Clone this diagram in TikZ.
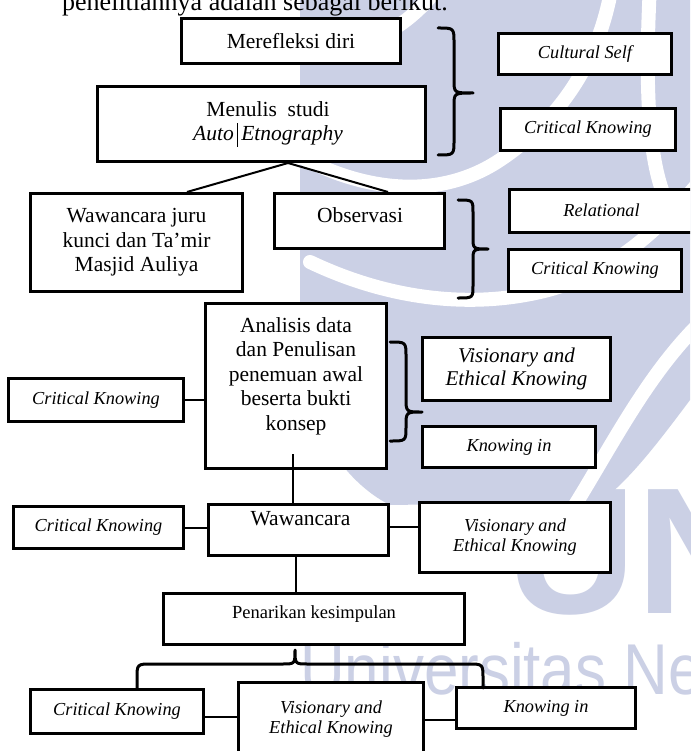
\documentclass[tikz,border=0pt]{standalone}
\usepackage{fontspec}
\setmainfont{Liberation Serif}
\newfontfamily\wmfont{Liberation Sans}
\usetikzlibrary{calc}
\definecolor{wm}{RGB}{203,208,229}
\begin{document}
\begin{tikzpicture}[x=1pt,y=-1pt,
  box/.style={draw=black, line width=3pt, fill=white, inner sep=0pt, align=center},
  txt/.style={inner sep=0pt, align=center},
  big/.style={font=\fontsize{21.5}{24.5}\selectfont},
  sm/.style={font=\fontsize{18.3}{20}\selectfont\itshape},
  smr/.style={font=\fontsize{18.5}{21}\selectfont},
  conn/.style={line width=2pt},
  brc/.style={line width=3pt, line cap=round, line join=round},
  stripe/.style={draw=white, line width=14pt, line cap=round}
]
\useasboundingbox (0,0) rectangle (690,751);
\clip (0,0) rectangle (690,751);
\fill[white] (0,0) rectangle (690,751);

% watermark (faint logo in the background)
\fill[wm] (300,0) -- (690,0) -- (690,400) .. controls (660,440) and (630,480) .. (600,502) -- (390,505) .. controls (340,480) and (310,420) .. (300,380) -- cycle;
\draw[stripe] (280,145) .. controls (360,195) and (440,200) .. (500,160) .. controls (560,120) and (600,60) .. (612,-15);
\draw[stripe] (310,262) .. controls (390,300) and (470,308) .. (540,292) .. controls (610,276) and (660,230) .. (705,175);
\draw[stripe] (575,505) .. controls (615,440) and (650,370) .. (705,318);
\draw[stripe] (650,-15) .. controls (645,80) and (648,150) .. (662,190);
\draw[stripe] (290,45) .. controls (340,60) and (400,40) .. (440,-15);
\node[anchor=base west, text=wm, font=\wmfont\fontsize{72}{72}\selectfont, xscale=0.86, inner sep=0pt] (wmt) at (300,694) {Universitas Negeri};
\node[anchor=base west, text=wm, font=\wmfont\bfseries\fontsize{180}{180}\selectfont, inner sep=0pt] (wmu) at (506,613) {UN};

% intro line (cut off at the top)
\node[anchor=base west, inner sep=0pt, font=\fontsize{26}{30}\selectfont] (intro) at (62,10.5) {penelitiannya adalah sebagai berikut.};

% boxes
\node[box, big, minimum width=219pt, minimum height=45pt] (mer) at (291,41) {Merefleksi diri};
\node[box, minimum width=328pt, minimum height=75pt] (men) at (261.5,124) {};
\node[txt, big] (ment) at (268,124) {Menulis\ \ studi\\\textit{Auto}\hspace{3pt}\rule[-6pt]{1.6pt}{24pt}\hspace{3pt}\textit{Etnography}};
\node[box, sm, minimum width=173pt, minimum height=41pt] (cs) at (585,54) {Cultural Self};
\node[box, sm, minimum width=175pt, minimum height=42pt] (ck1) at (588,129.5) {Critical Knowing};

\node[box, big, minimum width=212pt, minimum height=98pt] (wjk) at (136.5,242.5) {Wawancara juru\\kunci dan Ta’mir\\Masjid Auliya};
\node[box, minimum width=170pt, minimum height=55pt] (obs) at (359.5,221) {};
\node[txt, big] (obst) at (360,215) {Observasi};
\node[box, sm, minimum width=192.5pt, minimum height=43pt] (rel) at (605.75,211) {};
\node[txt, sm] (relt) at (601.5,210) {Relational};
\node[box, sm, minimum width=173pt, minimum height=42pt] (ck2) at (595,270.5) {Critical Knowing};

\node[box, minimum width=181pt, minimum height=165pt] (ana) at (296,386) {};
\node[txt, big] (anat) at (296,376) {Analisis data\\dan Penulisan\\penemuan awal\\beserta bukti\\konsep};
\node[box, sm, minimum width=175pt, minimum height=43pt] (ck3) at (96,400) {Critical Knowing};
\node[box, font=\fontsize{21}{23.5}\selectfont\itshape, minimum width=188pt, minimum height=63pt] (vis1) at (516.5,369) {Visionary and\\Ethical Knowing};
\node[box, sm, minimum width=173pt, minimum height=41pt] (ki1) at (509,447) {Knowing in};

\node[box, minimum width=180pt, minimum height=51pt] (waw) at (298.5,530) {};
\node[txt, big] (wawt) at (300.5,519) {Wawancara};
\node[box, sm, minimum width=170pt, minimum height=42pt] (ck4) at (98.5,527.5) {Critical Knowing};
\node[box, sm, minimum width=191pt, minimum height=70pt] (vis2) at (515,537.5) {Visionary and\\Ethical Knowing};

\node[box, minimum width=301pt, minimum height=51pt] (pen) at (314,619) {};
\node[txt, smr] (pent) at (314,614) {Penarikan kesimpulan};

\node[box, sm, minimum width=173pt, minimum height=44pt] (ck5) at (117,711.5) {Critical Knowing};
\node[box, minimum width=185pt, minimum height=96pt] (vis3) at (331,730.75) {};
\node[txt, sm] (vis3t) at (331,719) {Visionary and\\Ethical Knowing};
\node[box, sm, minimum width=179pt, minimum height=41pt] (ki2) at (546,708) {Knowing in};

% connectors
\draw[conn] ([xshift=26.5pt]men.south) -- ([xshift=50.5pt]wjk.north);
\draw[conn] ([xshift=26.5pt]men.south) -- ([xshift=28.5pt]obs.north);
\draw[conn] (ck3.east) -- (ck3.east -| ana.west);
\draw[conn] ([xshift=-3pt,yshift=16pt]ana.south) -- ([xshift=-3pt]ana.south |- waw.north);
\draw[conn] (ck4.east) -- (ck4.east -| waw.west);
\draw[conn] ([yshift=3pt]waw.east) -- ([yshift=3pt]waw.east -| vis2.west);
\draw[conn] ([xshift=-3pt]waw.south) -- ([xshift=-3pt]waw.south |- pen.north);
\draw[conn] ([yshift=-5.5pt]ck5.east) -- ([yshift=-5.5pt]ck5.east -| vis3.west);
\draw[conn] ([yshift=-12pt]ki2.west -| vis3.east) -- ([yshift=-12pt]ki2.west);

% braces
\draw[brc] (438,28) .. controls (454,28) .. (454,43) -- (454,80) .. controls (454,93) .. (473,93) .. controls (454,93) .. (454,106) -- (454,140) .. controls (454,155) .. (438,155);
\draw[brc] (458,200) .. controls (473,200) .. (473,213) -- (473,237) .. controls (473,249) .. (488,249) .. controls (473,249) .. (473,261) -- (473,285) .. controls (473,298) .. (458,298);
\draw[brc] (390,342) .. controls (406,342) .. (406,357) -- (406,398) .. controls (406,412) .. (422,412) .. controls (406,412) .. (406,426) -- (406,427) .. controls (406,441) .. (390,441);
\draw[brc] (137,688) -- (137,679) .. controls (137,664) .. (152,664) -- (282,664) .. controls (295,664) .. (295,650) .. controls (295,664) .. (308,664) -- (468,664) .. controls (483,664) .. (483,679) -- (483,688);
\end{tikzpicture}
\end{document}
